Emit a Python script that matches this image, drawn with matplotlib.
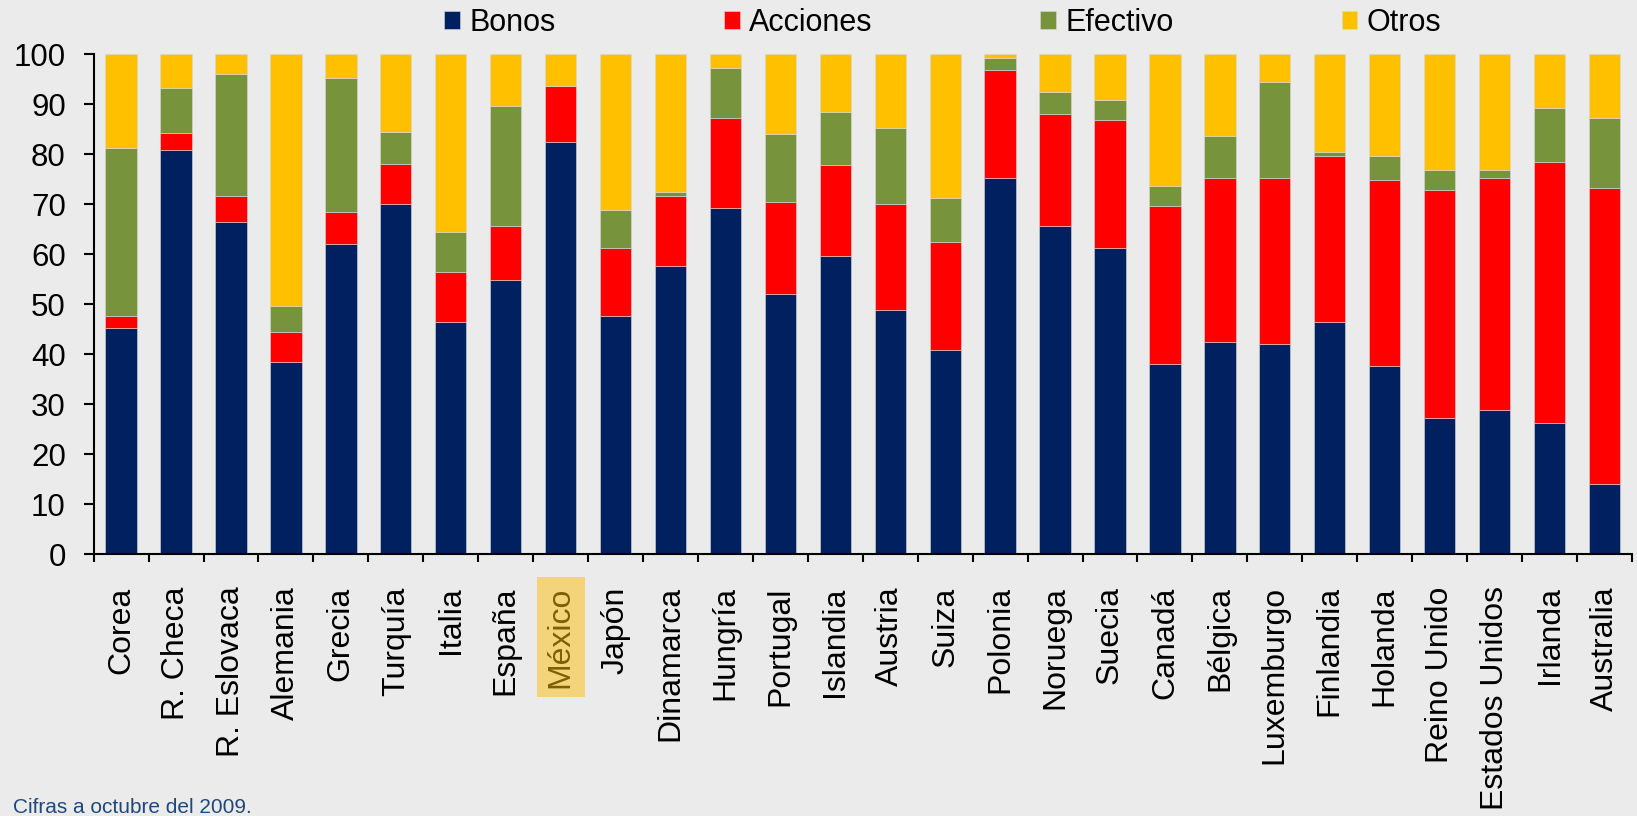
import numpy as np
import matplotlib.pyplot as plt

paises = ["Corea", "R. Checa", "R. Eslovaca", "Alemania", "Grecia", "Turquía",
          "Italia", "España", "México", "Japón", "Dinamarca", "Hungría",
          "Portugal", "Islandia", "Austria", "Suiza", "Polonia", "Noruega",
          "Suecia", "Canadá", "Bélgica", "Luxemburgo", "Finlandia", "Holanda",
          "Reino Unido", "Estados Unidos", "Irlanda", "Australia"]

bonos = [45.3, 80.8, 66.4, 38.5, 62.1, 70.0, 46.4, 54.9, 82.4, 47.7, 57.7, 69.2,
         52.0, 59.7, 48.8, 40.9, 75.3, 65.6, 61.2, 38.1, 42.5, 42.1, 46.5, 37.7,
         27.3, 28.9, 26.2, 14.1]
# tops acumulados
top_acciones = [47.7, 84.3, 71.6, 44.5, 68.4, 78.0, 56.5, 65.6, 93.6, 61.2, 71.6, 87.2,
                70.5, 77.9, 70.0, 62.5, 96.8, 88.0, 86.8, 69.7, 75.3, 75.3, 79.6, 74.8,
                72.9, 75.3, 78.5, 73.2]
top_efectivo = [81.2, 93.2, 96.0, 49.6, 95.2, 84.4, 64.5, 89.6, 93.6, 68.9, 72.5, 97.2,
                84.0, 88.4, 85.2, 71.3, 99.2, 92.4, 90.8, 73.7, 83.6, 94.4, 80.4, 79.6,
                76.9, 76.9, 89.2, 87.3]

bonos = np.array(bonos)
acciones = np.array(top_acciones) - bonos
efectivo = np.array(top_efectivo) - np.array(top_acciones)
otros = 100 - np.array(top_efectivo)

series = [("Bonos", bonos, "#002060"), ("Acciones", acciones, "#FF0000"),
          ("Efectivo", efectivo, "#77933C"), ("Otros", otros, "#FFC000")]

plt.rcParams['font.family'] = ['Liberation Sans', 'DejaVu Sans']
bg = "#EBEBEB"
fig = plt.figure(figsize=(16.37, 8.16), dpi=100, facecolor=bg)
ax = fig.add_axes([0.0572, 0.3207, 0.9397, 0.6127], facecolor=bg)

x = np.arange(len(paises))
base = np.zeros(len(paises))
for nombre, vals, color in series:
    ax.bar(x, vals, 0.57, bottom=base, color=color, label=nombre,
           edgecolor="#d8d8d8", linewidth=0.4)
    base = base + vals

ax.set_xlim(-0.5, len(paises) - 0.5)
ax.set_ylim(0, 100)
ax.set_yticks(range(0, 101, 10))
ax.tick_params(axis='y', labelsize=22.5, length=7, width=1.5, direction='out', pad=13)
ax.set_xticks(x)
ax.set_xticklabels(paises, rotation=90, fontsize=23)
ax.tick_params(axis='x', length=0, pad=23)
ax.set_xticks(np.arange(-0.5, len(paises)), minor=True)
ax.tick_params(axis='x', which='minor', length=6, width=1.5)
for s in ['top', 'right']:
    ax.spines[s].set_visible(False)
for s in ['left', 'bottom']:
    ax.spines[s].set_linewidth(1.5)

lbl = ax.get_xticklabels()[paises.index("México")]
lbl.set_color("#7F6000")
lbl.set_bbox(dict(facecolor="#F4D47A", edgecolor="none", pad=6.5))

ax.legend(loc='center', bbox_to_anchor=(0.552, 1.063), ncol=4, frameon=False,
          fontsize=22, handlelength=0.52, handleheight=0.52, handletextpad=0.3,
          columnspacing=5.5, borderaxespad=0)

fig.text(0.008, 0.004, "Cifras a octubre del 2009.", fontsize=15, color="#1F497D",
         va='baseline')

fig.savefig("out.png", dpi=100, facecolor=bg)
